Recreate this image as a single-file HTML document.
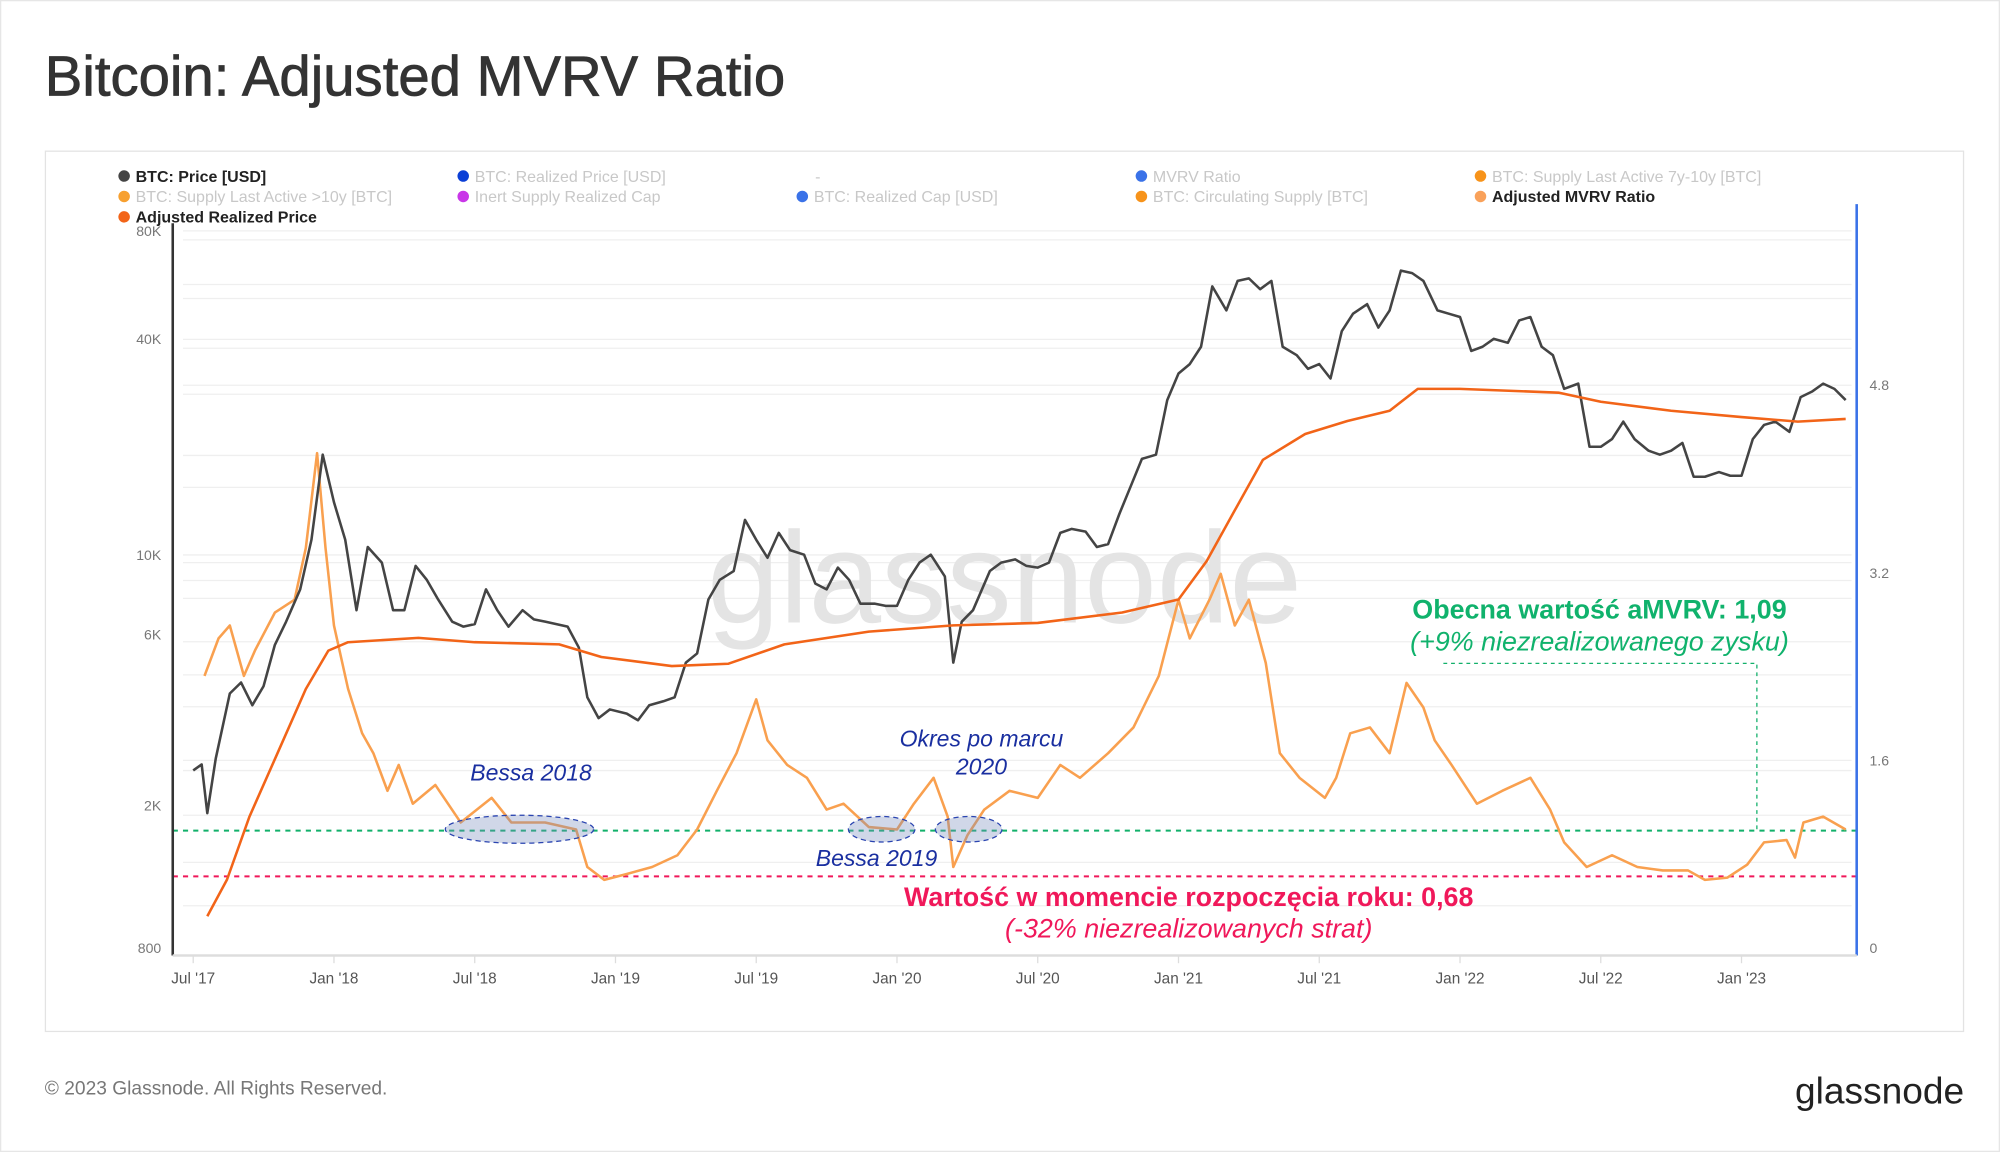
<!DOCTYPE html>
<html><head><meta charset="utf-8"><style>
html,body{margin:0;padding:0;background:#fff;width:2000px;height:1152px;overflow:hidden}
svg{display:block}
text{font-family:"Liberation Sans",sans-serif}
</style></head><body>
<svg id="chart" width="2000" height="1152" viewBox="0 0 1563 903" preserveAspectRatio="none" xmlns="http://www.w3.org/2000/svg">
<rect x="0.5" y="0.5" width="1562" height="902" fill="#fff" stroke="#e6e6e6"/>
<text x="35" y="75" font-size="44" fill="#333" stroke="#333" stroke-width="0.6">Bitcoin: Adjusted MVRV Ratio</text>
<rect x="35.5" y="118.5" width="1499" height="690" fill="#fff" stroke="#e3e3e3"/>
<g id="grid"></g>
<text x="785" y="488" font-size="102" fill="#e4e4e4" text-anchor="middle">glassnode</text>
<g id="legend"></g>
<g id="annot-lines"></g>
<g id="series"></g>
<g id="axes"></g>
<g id="notes">
 <ellipse cx="406" cy="650" rx="58" ry="11" fill="rgba(120,140,190,0.35)" stroke="#2a44b0" stroke-dasharray="4,3"/>
 <ellipse cx="689" cy="650" rx="26" ry="10" fill="rgba(120,140,190,0.35)" stroke="#2a44b0" stroke-dasharray="4,3"/>
 <ellipse cx="757" cy="650" rx="26" ry="10" fill="rgba(120,140,190,0.35)" stroke="#2a44b0" stroke-dasharray="4,3"/>
 <text x="415" y="612" font-size="18" font-style="italic" fill="#1a2fa0" text-anchor="middle">Bessa 2018</text>
 <text x="767" y="585" font-size="18" font-style="italic" fill="#1a2fa0" text-anchor="middle">Okres po marcu</text>
 <text x="767" y="607" font-size="18" font-style="italic" fill="#1a2fa0" text-anchor="middle">2020</text>
 <text x="685" y="679" font-size="18" font-style="italic" fill="#1a2fa0" text-anchor="middle">Bessa 2019</text>
 <text x="1250" y="485" font-size="21" font-weight="bold" fill="#10b26c" text-anchor="middle">Obecna wartość aMVRV: 1,09</text>
 <text x="1250" y="510" font-size="21" font-style="italic" fill="#10b26c" text-anchor="middle">(+9% niezrealizowanego zysku)</text>
 <text x="929" y="710" font-size="21" font-weight="bold" fill="#f0185a" text-anchor="middle">Wartość w momencie rozpoczęcia roku: 0,68</text>
 <text x="929" y="735" font-size="21" font-style="italic" fill="#f0185a" text-anchor="middle">(-32% niezrealizowanych strat)</text>
</g>
<text x="35" y="858" font-size="15" fill="#777">© 2023 Glassnode. All Rights Reserved.</text>
<text x="1535" y="865" font-size="29" fill="#222" text-anchor="end">glassnode</text>
</svg>
<script>
const priceDates=[2017.50,2017.53,2017.55,2017.58,2017.63,2017.67,2017.71,2017.75,2017.79,2017.83,2017.88,2017.92,2017.96,2018.0,2018.04,2018.08,2018.12,2018.17,2018.21,2018.25,2018.29,2018.33,2018.37,2018.42,2018.46,2018.50,2018.54,2018.58,2018.62,2018.67,2018.71,2018.75,2018.79,2018.83,2018.87,2018.90,2018.94,2018.98,2019.04,2019.08,2019.12,2019.17,2019.21,2019.25,2019.29,2019.33,2019.37,2019.42,2019.46,2019.50,2019.54,2019.58,2019.62,2019.67,2019.71,2019.75,2019.79,2019.83,2019.87,2019.92,2019.96,2020.0,2020.04,2020.08,2020.12,2020.17,2020.20,2020.23,2020.27,2020.33,2020.37,2020.42,2020.46,2020.50,2020.54,2020.58,2020.62,2020.67,2020.71,2020.75,2020.79,2020.83,2020.87,2020.92,2020.96,2021.0,2021.04,2021.08,2021.12,2021.17,2021.21,2021.25,2021.29,2021.33,2021.37,2021.42,2021.46,2021.50,2021.54,2021.58,2021.62,2021.67,2021.71,2021.75,2021.79,2021.83,2021.87,2021.92,2021.96,2022.0,2022.04,2022.08,2022.12,2022.17,2022.21,2022.25,2022.29,2022.33,2022.37,2022.42,2022.46,2022.50,2022.54,2022.58,2022.62,2022.67,2022.71,2022.75,2022.79,2022.83,2022.87,2022.92,2022.96,2023.0,2023.04,2023.08,2023.12,2023.17,2023.21,2023.25,2023.29,2023.33,2023.37];
const priceValues=[2500,2600,1900,2700,4100,4400,3800,4300,5600,6500,8000,11000,19000,14000,11000,7000,10500,9500,7000,7000,9300,8500,7500,6500,6300,6400,8000,7000,6300,7000,6600,6500,6400,6300,5500,4000,3500,3700,3600,3450,3800,3900,4000,5000,5300,7500,8500,9000,12500,11000,9800,11500,10300,10000,8300,8000,9200,8500,7300,7300,7200,7200,8500,9500,10000,8700,5000,6500,7000,9000,9500,9700,9300,9200,9500,11500,11800,11600,10500,10700,13000,15500,18500,19000,27000,32000,34000,38000,56000,48000,58000,59000,55000,58000,38000,36000,33000,34000,31000,42000,47000,50000,43000,48000,62000,61000,58000,48000,47000,46000,37000,38000,40000,39000,45000,46000,38000,36000,29000,30000,20000,20000,21000,23500,21000,19500,19000,19500,20500,16500,16500,17000,16600,16600,21000,23000,23500,22000,27500,28500,30000,29000,27000];
const arpDates=[2017.55,2017.62,2017.70,2017.80,2017.90,2017.98,2018.05,2018.3,2018.5,2018.8,2018.95,2019.2,2019.4,2019.6,2019.9,2020.2,2020.5,2020.8,2021.0,2021.1,2021.2,2021.3,2021.45,2021.6,2021.75,2021.85,2022.0,2022.35,2022.5,2022.75,2023.0,2023.2,2023.37];
const arpValues=[980,1240,1860,2800,4220,5400,5700,5860,5700,5620,5180,4890,4960,5620,6100,6350,6450,6900,7500,9600,13300,18400,21700,23600,25200,29000,29000,28300,26700,25200,24200,23500,23900];
const amvrvDates=[2017.54,2017.59,2017.63,2017.68,2017.72,2017.79,2017.86,2017.90,2017.94,2017.97,2018.00,2018.05,2018.10,2018.14,2018.19,2018.23,2018.28,2018.36,2018.45,2018.56,2018.63,2018.75,2018.86,2018.90,2018.96,2019.04,2019.13,2019.22,2019.29,2019.36,2019.43,2019.50,2019.54,2019.61,2019.68,2019.75,2019.81,2019.90,2020.00,2020.06,2020.13,2020.18,2020.20,2020.25,2020.31,2020.40,2020.50,2020.58,2020.65,2020.75,2020.84,2020.93,2021.00,2021.04,2021.11,2021.15,2021.20,2021.25,2021.31,2021.36,2021.43,2021.52,2021.56,2021.61,2021.68,2021.75,2021.81,2021.87,2021.91,2021.97,2022.06,2022.15,2022.25,2022.32,2022.37,2022.45,2022.54,2022.63,2022.72,2022.81,2022.87,2022.95,2023.02,2023.08,2023.16,2023.19,2023.22,2023.29,2023.37];
const amvrvValues=[2.32,2.64,2.75,2.32,2.54,2.86,2.97,3.41,4.22,3.41,2.75,2.21,1.83,1.66,1.34,1.56,1.23,1.39,1.07,1.28,1.07,1.07,1.01,0.69,0.58,0.63,0.69,0.79,1.01,1.34,1.66,2.12,1.77,1.56,1.45,1.18,1.23,1.03,1.01,1.23,1.45,1.12,0.69,0.96,1.18,1.34,1.28,1.56,1.45,1.66,1.88,2.32,2.97,2.64,2.97,3.19,2.75,2.97,2.43,1.66,1.45,1.28,1.45,1.83,1.88,1.66,2.26,2.05,1.77,1.56,1.23,1.34,1.45,1.18,0.90,0.69,0.79,0.69,0.66,0.66,0.58,0.60,0.71,0.90,0.92,0.77,1.07,1.12,1.01];
const leftTicks=[800,2000,6000,10000,40000,80000];
const leftTickLabels=["800","2K","6K","10K","40K","80K"];
const rightTicks=[0,1.6,3.2,4.8];
const rightTickLabels=["0","1.6","3.2","4.8"];
const xTickDates=[2017.5,2018,2018.5,2019,2019.5,2020,2020.5,2021,2021.5,2022,2022.5,2023];
const xTickLabels=["Jul '17","Jan '18","Jul '18","Jan '19","Jul '19","Jan '20","Jul '20","Jan '21","Jul '21","Jan '22","Jul '22","Jan '23"];
const refLevels=[1.0,0.61];
const legendLabels=["BTC: Price [USD]","BTC: Realized Price [USD]","-","MVRV Ratio","BTC: Supply Last Active 7y-10y [BTC]","BTC: Supply Last Active >10y [BTC]","Inert Supply Realized Cap","BTC: Realized Cap [USD]","BTC: Circulating Supply [BTC]","Adjusted MVRV Ratio","Adjusted Realized Price"];
const legendColors=["#444","#0b3fd6","","#3a72e8","#f7931a","#f7a030","#c936e8","#3a72e8","#f7931a","#f9a15a","#f26418"];
const legendActive=[1,0,0,0,0,0,0,0,0,1,1];

const NS="http://www.w3.org/2000/svg";
const X0=135,X1=1451,Y0=743;
const x=t=>151+(t-2017.5)*220;
const yL=v=>Y0-281*Math.log10(v/800);
const yR=v=>Y0-91.9*v;
function mk(tag,attrs,parent){const e=document.createElementNS(NS,tag);for(const k in attrs)e.setAttribute(k,attrs[k]);parent.appendChild(e);return e;}
const grid=document.getElementById('grid');
[181,188,223,234,266,273,302,309,357,382,435,441,455,469,503,529,554,596,604,639,676,710].forEach(gy=>{
 const l=mk('line',{x1:143,x2:1447,y1:gy,y2:gy,stroke:'#efefef','stroke-width':1},grid);
 
 
});
const lg=document.getElementById('legend');
const colX=[92,357,622,887,1152];
legendLabels.forEach((lab,i)=>{
 const cx=colX[i%5], cy=138+Math.floor(i/5)*16;
 const g=mk('g',{},lg);
 
 
 if(legendColors[i]) mk('circle',{cx:cx+5,cy:cy,r:4.5,fill:legendColors[i]},g);
 const t=mk('text',{x:lab==='-'?cx+15:cx+14,y:cy+4.5,'font-size':12.5,fill:legendActive[i]?'#222':'#c8c8c8','font-weight':legendActive[i]?'bold':'normal'},g);
 t.textContent=lab;
});
const al=document.getElementById('annot-lines');
const refColors=['#12b06a','#f0185a'];
refLevels.forEach((v,i)=>{
 const l=mk('line',{x1:X0,x2:X1,y1:yR(v),y2:yR(v),stroke:refColors[i],'stroke-width':1.6,'stroke-dasharray':'4,4'},al);
 
 
});
const conn=mk('path',{d:`M1128 520 H1373 V${yR(refLevels[0])}`,fill:'none',stroke:'#12b06a','stroke-width':1,'stroke-dasharray':'3,3'},al);


const sg=document.getElementById('series');
function line(ds,vs,fy,color,w,name){
 const d=ds.map((t,i)=>(i?'L':'M')+x(t).toFixed(1)+' '+fy(vs[i]).toFixed(1)).join(' ');
 const p=mk('path',{d:d,fill:'none',stroke:color,'stroke-width':w,'stroke-linejoin':'round'},sg);
 
 
}
line(amvrvDates,amvrvValues,yR,'#f9a04f',2,'adjusted-mvrv-line');
line(priceDates,priceValues,yL,'#444',2,'btc-price-line');
line(arpDates,arpValues,yL,'#f26418',2,'adjusted-realized-price-line');
const ax=document.getElementById('axes');
let a=mk('line',{x1:X0,x2:X0,y1:175,y2:749,stroke:'#333','stroke-width':2},ax);


a=mk('line',{x1:X1,x2:X1,y1:160,y2:749,stroke:'#3a72e8','stroke-width':2},ax);


a=mk('line',{x1:X0,x2:X1,y1:749,y2:749,stroke:'#ddd','stroke-width':2},ax);


leftTicks.forEach((v,i)=>{
 const t=mk('text',{x:126,y:yL(v)+4,'font-size':11,fill:'#777','text-anchor':'end'},ax);
 t.textContent=leftTickLabels[i];
 
 
});
rightTicks.forEach((v,i)=>{
 const t=mk('text',{x:1461,y:yR(v)+4,'font-size':11,fill:'#777'},ax);
 t.textContent=rightTickLabels[i];
 
 
});
xTickDates.forEach((d,i)=>{
 mk('line',{x1:x(d),x2:x(d),y1:749,y2:755,stroke:'#ddd'},ax);
 const t=mk('text',{x:x(d),y:771,'font-size':12,fill:'#555','text-anchor':'middle'},ax);
 t.textContent=xTickLabels[i];
 
 
});
</script>
</body></html>
